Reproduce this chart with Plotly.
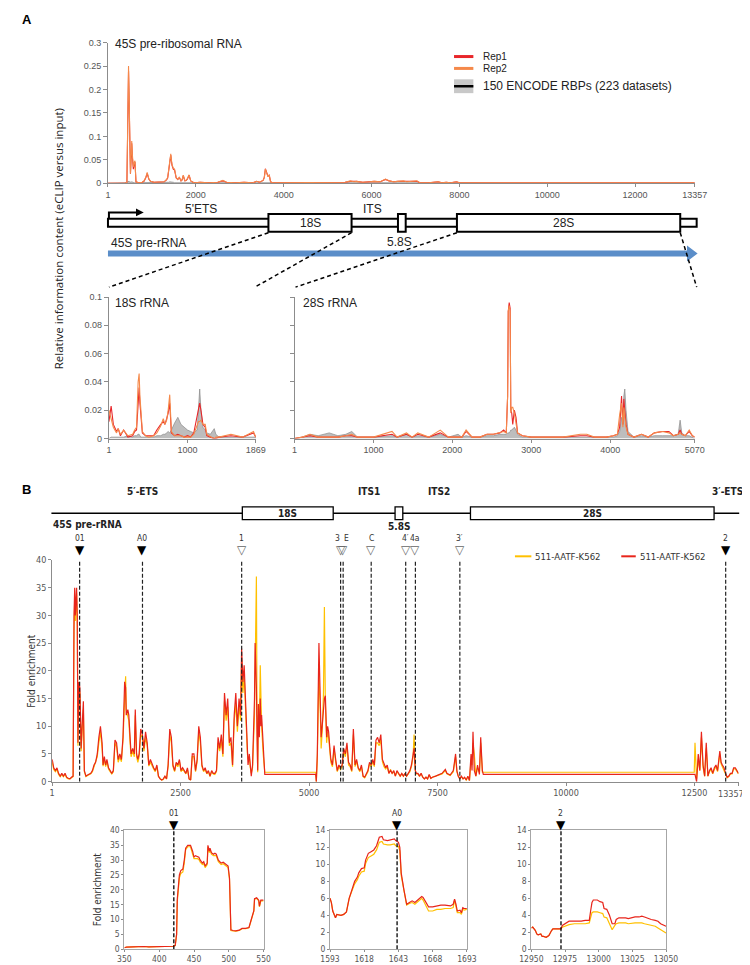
import plotly.graph_objects as go

W, H = 750, 965
def X(p): return p / W
def Y(p): return 1 - p / H

FA = "Liberation Sans, Arial, sans-serif"
FB = "Liberation Sans Narrow, Arial Narrow, DejaVu Sans Condensed, sans-serif"
RED_A = "#e8262a"
ORG_A = "#f5894a"
GRAY_FILL = "#bdbdbd"
GRAY_LINE = "#8a8a8a"
YEL_B = "#ffc000"
RED_B = "#e8251b"
AXC = "#8c8c8c"
TXT = "#222222"

# ---------------- Panel A: 45S pre-rRNA ----------------
a45_pos = [1, 400, 432, 445, 458, 469, 480, 495, 506, 513,
           525, 542, 557, 570, 579, 600, 616, 638, 700, 780,
           821, 860, 894, 930, 968, 1050, 1150, 1224, 1280, 1334,
           1360, 1385, 1407, 1430, 1445, 1459, 1488, 1517, 1554, 1590,
           1627, 1664, 1690, 1715, 1752, 1780, 1810, 1847, 1884, 1957,
           2100, 2300, 2500, 2617, 2700, 2900, 3100, 3300, 3387, 3450,
           3533, 3560, 3584, 3614, 3643, 3672, 3702, 3750, 4000, 4500,
           5000, 5400, 5517, 5549, 5600, 5659, 5800, 5950, 6062, 6200,
           6319, 6400, 6500, 6600, 6725, 6800, 6900, 7033, 7100, 7300,
           7516, 7600, 7700, 7800, 7934, 8000, 9000, 10000, 11000, 12000,
           13000, 13357]
a45_rep2 = [0, 0, 0.002, 0.12, 0.22, 0.25, 0.2, 0.13, 0.08, 0.02,
            0.05, 0.09, 0.06, 0.04, 0.035, 0.045, 0.048, 0.003, 0.001, 0.002,
            0.005, 0.012, 0.023, 0.01, 0.004, 0.002, 0.003, 0.004, 0.003, 0.008,
            0.012, 0.03, 0.045, 0.063, 0.05, 0.04, 0.032, 0.03, 0.012, 0.008,
            0.013, 0.005, 0.008, 0.017, 0.005, 0.006, 0.01, 0.018, 0.005, 0.001,
            0.002, 0.001, 0.002, 0.006, 0.002, 0.001, 0.002, 0.001, 0.004, 0.002,
            0.006, 0.012, 0.03, 0.02, 0.014, 0.018, 0.003, 0.001, 0.001, 0.001,
            0.001, 0.002, 0.005, 0.004, 0.003, 0.004, 0.002, 0.003, 0.004, 0.003,
            0.009, 0.005, 0.003, 0.004, 0.005, 0.003, 0.004, 0.005, 0.001, 0.001,
            0.003, 0.001, 0.002, 0.001, 0.003, 0.001, 0.001, 0.001, 0.001, 0.001,
            0.001, 0.001]
a45_rep1 = [0, 0, 0.002, 0.11, 0.21, 0.24, 0.19, 0.12, 0.07, 0.02,
            0.045, 0.085, 0.055, 0.04, 0.03, 0.04, 0.045, 0.003, 0.001, 0.002,
            0.004, 0.011, 0.021, 0.009, 0.004, 0.002, 0.003, 0.004, 0.003, 0.007,
            0.011, 0.028, 0.042, 0.06, 0.048, 0.038, 0.03, 0.028, 0.011, 0.008,
            0.012, 0.005, 0.007, 0.016, 0.005, 0.006, 0.009, 0.017, 0.005, 0.001,
            0.002, 0.001, 0.002, 0.005, 0.002, 0.001, 0.002, 0.001, 0.004, 0.002,
            0.006, 0.013, 0.031, 0.022, 0.015, 0.017, 0.003, 0.001, 0.001, 0.001,
            0.001, 0.002, 0.004, 0.004, 0.003, 0.004, 0.002, 0.003, 0.004, 0.003,
            0.008, 0.005, 0.003, 0.004, 0.004, 0.003, 0.004, 0.004, 0.001, 0.001,
            0.003, 0.001, 0.002, 0.001, 0.003, 0.001, 0.001, 0.001, 0.001, 0.001,
            0.001, 0.001]
a45_encode = [0, 0, 0.001, 0.003, 0.004, 0.005, 0.004, 0.003, 0.002, 0.002,
              0.002, 0.003, 0.002, 0.002, 0.001, 0.001, 0.001, 0.001, 0.001, 0.001,
              0.001, 0.001, 0.001, 0.001, 0.001, 0.001, 0.001, 0.001, 0.001, 0.001,
              0.002, 0.002, 0.003, 0.003, 0.002, 0.002, 0.002, 0.001, 0.001, 0.001,
              0.001, 0.001, 0.001, 0.002, 0.001, 0.001, 0.001, 0.001, 0.001, 0.001,
              0.001, 0.001, 0.001, 0.001, 0.001, 0.001, 0.001, 0.001, 0.001, 0.001,
              0.001, 0.001, 0.002, 0.002, 0.001, 0.001, 0.001, 0.001, 0.001, 0.001,
              0.001, 0.001, 0.001, 0.001, 0.001, 0.001, 0.001, 0.001, 0.001, 0.001,
              0.002, 0.001, 0.001, 0.001, 0.001, 0.001, 0.001, 0.002, 0.001, 0.001,
              0.001, 0.001, 0.001, 0.001, 0.002, 0.001, 0, 0, 0, 0,
              0, 0]
a45_xticks = [1, 2000, 4000, 6000, 8000, 10000, 12000, 13357]

# ---------------- Panel A: 18S rRNA ----------------
a18_pos = [1, 29, 57, 98, 119, 147, 188, 242, 303, 328,
           352, 372, 385, 395, 406, 426, 467, 508, 569, 610,
           631, 660, 692, 713, 735, 754, 774, 795, 836, 877,
           917, 960, 1000, 1040, 1080, 1122, 1140, 1155, 1171, 1196,
           1225, 1245, 1290, 1327, 1340, 1360, 1400, 1552, 1700, 1839,
           1860, 1869]
a18_rep1 = [0.012, 0.023, 0.01, 0.005, 0.007, 0.002, 0.006, 0.001, 0.002, 0.005,
            0.006, 0.03, 0.036, 0.025, 0.015, 0.004, 0.002, 0.002, 0.002, 0.006,
            0.008, 0.01, 0.012, 0.01, 0.014, 0.018, 0.025, 0.004, 0.002, 0.003,
            0.002, 0.001, 0.002, 0.001, 0.004, 0.015, 0.02, 0.025, 0.02, 0.01,
            0.008, 0.002, 0.001, 0, 0, 0, 0.001, 0.002, 0.001, 0.004,
            0.002, 0.001]
a18_rep2 = [0.02, 0.013, 0.008, 0.004, 0.007, 0.003, 0.006, 0.002, 0.003, 0.006,
            0.008, 0.04, 0.046, 0.03, 0.02, 0.005, 0.002, 0.001, 0.002, 0.004,
            0.006, 0.009, 0.014, 0.01, 0.013, 0.02, 0.031, 0.005, 0.002, 0.002,
            0.002, 0.001, 0.001, 0.001, 0.003, 0.01, 0.012, 0.012, 0.013, 0.01,
            0.01, 0.003, 0.001, 0, 0, 0.001, 0.001, 0.003, 0.001, 0.005,
            0.002, 0.001]
a18_encode = [0, 0.001, 0.001, 0.001, 0.001, 0.001, 0.001, 0.002, 0.001, 0.002,
              0.002, 0.003, 0.003, 0.002, 0.001, 0.001, 0.001, 0.001, 0.001, 0.002,
              0.002, 0.002, 0.003, 0.003, 0.004, 0.005, 0.004, 0.006, 0.011, 0.015,
              0.01, 0.008, 0.006, 0.005, 0.004, 0.006, 0.02, 0.035, 0.02, 0.008,
              0.006, 0.004, 0.003, 0.006, 0.007, 0.003, 0.001, 0.001, 0.001, 0.001,
              0.001, 0]
a18_xticks = [1, 1000, 1869]

# ---------------- Panel A: 28S rRNA ----------------
a28_pos = [1, 100, 196, 300, 440, 550, 650, 726, 800, 1000,
           1236, 1300, 1419, 1490, 1562, 1700, 1847, 1950, 2072, 2120,
           2174, 2250, 2350, 2439, 2520, 2602, 2650, 2683, 2700, 2708,
           2720, 2732, 2740, 2752, 2765, 2785, 2806, 2826, 2887, 3000,
           3200, 3400, 3621, 3703, 3800, 3950, 4040, 4090, 4119, 4143,
           4160, 4172, 4184, 4200, 4225, 4300, 4396, 4480, 4559, 4661,
           4743, 4800, 4860, 4885, 4906, 4950, 5000, 5040, 5070]
a28_rep1 = [0, 0.001, 0.002, 0.001, 0.001, 0.001, 0.002, 0.002, 0.001, 0.001,
            0.003, 0.001, 0.003, 0.001, 0.003, 0.001, 0.004, 0.001, 0.001, 0.001,
            0.005, 0.001, 0.001, 0.003, 0.003, 0.004, 0.006, 0.004, 0.03, 0.09,
            0.096, 0.092, 0.02, 0.018, 0.01, 0.02, 0.015, 0.004, 0.002, 0.001,
            0.001, 0.001, 0.002, 0.002, 0.001, 0.001, 0.002, 0.003, 0.008, 0.03,
            0.01, 0.028, 0.02, 0.01, 0.003, 0.001, 0.003, 0.001, 0.004, 0.005,
            0.005, 0.002, 0.003, 0.006, 0.003, 0.002, 0.005, 0.002, 0.001]
a28_rep2 = [0, 0.001, 0.003, 0.001, 0.001, 0.001, 0.002, 0.003, 0.001, 0.001,
            0.005, 0.001, 0.004, 0.001, 0.004, 0.001, 0.006, 0.001, 0.001, 0.001,
            0.006, 0.001, 0.001, 0.003, 0.003, 0.004, 0.005, 0.004, 0.03, 0.09,
            0.094, 0.09, 0.018, 0.022, 0.022, 0.018, 0.012, 0.004, 0.002, 0.001,
            0.001, 0.001, 0.003, 0.003, 0.001, 0.001, 0.002, 0.003, 0.017, 0.025,
            0.008, 0.022, 0.015, 0.008, 0.003, 0.001, 0.003, 0.001, 0.004, 0.005,
            0.004, 0.002, 0.003, 0.004, 0.003, 0.002, 0.006, 0.002, 0.001]
a28_encode = [0, 0.001, 0.003, 0.002, 0.004, 0.002, 0.003, 0.005, 0.001, 0.001,
              0.002, 0.001, 0.003, 0.001, 0.002, 0.001, 0.003, 0.001, 0.003, 0.001,
              0.002, 0.001, 0.001, 0.002, 0.002, 0.003, 0.003, 0.003, 0.004, 0.004,
              0.004, 0.005, 0.006, 0.006, 0.007, 0.008, 0.006, 0.003, 0.001, 0.001,
              0.001, 0.001, 0.001, 0.001, 0.001, 0.001, 0.001, 0.002, 0.005, 0.015,
              0.01, 0.03, 0.035, 0.02, 0.005, 0.001, 0.002, 0.001, 0.002, 0.002,
              0.002, 0.002, 0.003, 0.013, 0.004, 0.002, 0.002, 0.001, 0]
a28_xticks = [1, 1000, 2000, 3000, 4000, 5070]

# ---------------- Panel B: full 45S ----------------
b_pos = [1, 31, 63, 94, 125, 157, 188, 219, 251, 282,
         314, 345, 376, 408, 426, 439, 451, 476, 489, 502,
         520, 539, 552, 564, 583, 608, 627, 658, 690, 752,
         784, 815, 846, 878, 909, 940, 972, 991, 1016, 1041,
         1066, 1097, 1129, 1160, 1191, 1223, 1254, 1285, 1317, 1348,
         1379, 1411, 1430, 1442, 1473, 1492, 1517, 1536, 1568, 1599,
         1618, 1643, 1668, 1693, 1724, 1756, 1787, 1818, 1850, 1881,
         1912, 1944, 1975, 2006, 2038, 2069, 2100, 2132, 2163, 2195,
         2226, 2257, 2289, 2320, 2351, 2383, 2414, 2445, 2477, 2508,
         2539, 2571, 2602, 2633, 2665, 2696, 2727, 2759, 2790, 2822,
         2853, 2884, 2915, 2947, 2978, 3010, 3041, 3072, 3104, 3135,
         3166, 3198, 3229, 3260, 3292, 3323, 3354, 3386, 3417, 3449,
         3480, 3511, 3543, 3574, 3605, 3637, 3668, 3687, 3712, 3737,
         3762, 3781, 3800, 3812, 3837, 3856, 3875, 3900, 3919, 3938,
         3950, 3963, 3975, 3988, 4000, 4013, 4032, 4050, 4063, 4076,
         4107, 4138, 5129, 5141, 5160, 5173, 5192, 5217, 5235, 5255,
         5280, 5298, 5317, 5342, 5361, 5380, 5405, 5424, 5455, 5486,
         5518, 5549, 5580, 5612, 5643, 5674, 5706, 5737, 5768, 5800,
         5831, 5862, 5894, 5925, 5957, 5988, 6019, 6051, 6082, 6113,
         6145, 6176, 6208, 6239, 6270, 6302, 6333, 6364, 6396, 6427,
         6459, 6490, 6521, 6553, 6585, 6616, 6648, 6679, 6710, 6742,
         6773, 6804, 6836, 6867, 6898, 6930, 6961, 6992, 7024, 7043,
         7068, 7086, 7118, 7149, 7180, 7212, 7243, 7275, 7306, 7337,
         7369, 7400, 7463, 7525, 7588, 7651, 7682, 7745, 7807, 7851,
         7876, 7902, 7933, 7964, 7996, 8027, 8058, 8090, 8121, 8152,
         8171, 8190, 8215, 8246, 8278, 8315, 8340, 8372, 8391, 12495,
         12510, 12541, 12573, 12604, 12635, 12667, 12698, 12729, 12761, 12792,
         12823, 12855, 12886, 12918, 12949, 12993, 13018, 13043, 13074, 13106,
         13137, 13168, 13200, 13231, 13262, 13294, 13325, 13357]
b_red = [4, 2.5, 2, 2.5, 1.5, 1, 1.5, 1, 1.5, 0.8,
         0.6, 0.5, 0.8, 1, 30, 35, 30, 35, 30, 7,
         18, 17, 12, 6, 10, 14.5, 2, 1, 1.2, 1.5,
         2, 3, 3.5, 5, 8, 10, 7, 3, 4.5, 3,
         4, 2.5, 2, 1.5, 2, 7.5, 7, 4, 5, 4,
         8, 18, 17, 12, 13, 12, 8, 5, 6, 5,
         13, 5, 4, 5, 9.5, 8.5, 6, 9, 7, 3,
         4, 3, 2.5, 2, 3, 1, 0.5, 0.3, 0.5, 1,
         0.5, 3, 9.5, 8, 3, 2, 3.5, 3, 4, 2,
         2.5, 2, 1.5, 2.5, 0.5, 0.3, 5, 5, 2, 4,
         10, 8, 3, 2, 2.5, 1.5, 2, 1, 2, 1.5,
         1.5, 2, 8, 6, 8.5, 5, 16, 12, 15, 7,
         8, 3, 12, 16, 10, 15, 12, 24, 18, 21,
         14, 10, 6, 3, 5, 2, 1, 3, 8, 15,
         25, 21, 17, 8, 2, 14, 8, 15, 10, 12,
         6, 1.3, 1.3, 0, 5, 12, 25, 15, 8, 10,
         14, 15, 15.5, 8, 10, 9, 6, 4, 3, 6.5,
         4, 2, 3, 2.5, 3, 6, 5, 7, 3.5, 3,
         2, 9.5, 3, 4, 2.5, 2, 3, 1, 0.8, 1.5,
         2, 3.5, 3, 4, 3, 7.5, 8, 7, 8.5, 4,
         3, 2.5, 3, 1.5, 2, 1.5, 2, 1, 2, 1.5,
         1, 1.5, 1, 1.5, 1, 1.5, 2, 3, 5, 6,
         2, 1.5, 1.5, 1, 1.5, 0.8, 0.5, 0.8, 0.5, 1.3,
         0.6, 0.8, 1, 1.2, 1.5, 2.2, 1.5, 1.2, 2, 5,
         2, 1, 0.5, 1, 0.5, 0.8, 0.3, 1, 0.2, 5,
         2, 9, 2, 1, 3, 1.3, 8, 2, 1.3, 1.3,
         1.3, 0, 5, 2, 9, 3, 1, 7, 1, 2,
         2.5, 1.5, 2.5, 3, 2, 5.5, 3.5, 3, 2.5, 1.5,
         0.8, 1, 1.5, 1.5, 2.5, 2.5, 2, 1.5]
b_yellow = [3.5, 2.2, 1.8, 2.2, 1.3, 0.9, 1.3, 0.9, 1.3, 0.7,
            0.5, 0.5, 0.7, 0.9, 28, 33, 29, 34, 28, 6.5,
            17, 16, 11, 5.5, 9, 13, 1.8, 0.9, 1.1, 1.4,
            1.8, 2.7, 3.2, 4.5, 7, 9, 6, 2.8, 4, 2.7,
            3.6, 2.3, 1.8, 1.4, 1.8, 7, 6.3, 3.5, 4.5, 3.6,
            7.5, 17, 19, 13, 12, 11, 7, 4.5, 5.5, 4.5,
            12, 4.5, 3.5, 4.5, 8.5, 8, 5.5, 8, 6.5, 2.8,
            3.5, 2.7, 2.3, 1.8, 2.7, 0.9, 0.5, 0.3, 0.4, 0.9,
            0.5, 2.7, 8.5, 7, 2.7, 1.8, 3.2, 2.7, 3.6, 1.8,
            2.3, 1.8, 1.4, 2.2, 0.5, 0.3, 4.5, 4.5, 1.8, 3.6,
            9, 7, 2.7, 1.8, 2.2, 1.4, 1.8, 0.9, 1.8, 1.4,
            1.3, 1.8, 7, 5.5, 7.5, 4.5, 14.5, 11, 13.5, 6.5,
            7, 2.7, 11, 14, 9, 13.5, 11, 22, 16, 19,
            12, 8, 5, 4, 4.5, 2.5, 1.5, 2.5, 7, 12,
            20, 30, 37, 10, 1.7, 12, 9, 21, 12, 10,
            5, 1.7, 1.7, 0, 4, 10, 20, 13, 6, 9,
            16, 31.5, 14, 7, 9, 8, 5.5, 3.5, 2.7, 6,
            3.5, 1.8, 2.7, 2.2, 2.7, 5.5, 4.5, 6.5, 3, 2.7,
            1.8, 8.5, 2.7, 3.6, 2.3, 1.8, 2.7, 0.9, 0.7, 1.3,
            1.8, 3.2, 2.7, 3.6, 2.7, 7, 7, 6.5, 7.5, 3.6,
            2.7, 2.3, 2.7, 1.5, 2.2, 1.5, 1.8, 1, 1.8, 1.4,
            1, 1.4, 1, 1.4, 1, 1.4, 1.8, 2.7, 4.5, 8.5,
            2, 1.4, 1.4, 1, 1.4, 0.8, 0.5, 0.8, 0.5, 1.2,
            0.6, 0.8, 1, 1.1, 1.4, 2, 1.4, 1.1, 1.8, 4.5,
            1.8, 1, 0.5, 0.9, 0.5, 0.7, 0.3, 0.9, 0.2, 4,
            3, 7, 5, 1, 2.5, 1.7, 7, 1.7, 1.7, 1.7,
            7, 0.5, 4, 2, 8, 2.5, 1, 6, 1, 1.8,
            2.2, 1.4, 2.2, 2.7, 1.8, 5, 3.2, 2.7, 2.2, 1.4,
            0.7, 0.9, 1.4, 1.4, 2.3, 2.3, 1.8, 1.4]
b_xticks = [1, 2500, 5000, 7500, 10000, 12500, 13357]
b_site_pos = [535, 1758, 3688, 5614, 5663, 6209, 6880, 7069, 7934, 13107]
b_site_lab = ["01", "A0", "1", "3", "E", "C", "4\u2032", "4a", "3\u2032", "2"]
b_site_filled = [1, 1, 0, 0, 0, 0, 0, 0, 0, 1]

# ---------------- Panel B: zoom insets ----------------
i1_pos = [350, 353, 362, 376, 378, 385, 394, 408, 420, 423,
          425, 426, 428, 429, 431, 434, 436, 438, 441, 443,
          445, 448, 450, 452, 455, 457, 459, 462, 464, 466,
          469, 470, 472, 473, 475, 478, 480, 482, 485, 487,
          489, 492, 494, 496, 499, 501, 502, 503, 506, 510,
          515, 519, 524, 529, 531, 533, 536, 537, 540, 543,
          544, 546, 550]
i1_red = [0.5, 0.7, 0.8, 1.1, 0.9, 0.8, 0.8, 0.9, 1, 1.2,
          5, 17, 22, 25, 26.5, 27, 30, 34, 35, 35,
          35, 33, 31, 31.5, 31.3, 31, 30, 29, 29.5, 28,
          29, 35, 33, 34, 32.5, 32, 32.3, 32, 30, 29.5,
          29, 29.3, 29, 28.5, 28, 24, 15, 6.5, 6.3, 6.2,
          6.4, 7, 7, 7.3, 9, 11, 13, 17, 17.3, 16.5,
          14.5, 16.5, 16.5]
i1_yellow = [0.5, 0.7, 0.8, 1.1, 0.9, 0.8, 0.8, 0.9, 1, 1.2,
             5, 16, 21, 24, 25.5, 26, 29, 33.5, 34.5, 34.5,
             34.5, 32, 30.5, 30.5, 30.5, 30.2, 29.3, 28.5, 28.8, 27.5,
             28.5, 34.5, 32.5, 33.5, 32, 31.5, 31.5, 31.5, 29.5, 29,
             28.5, 28.8, 28.5, 28, 27.5, 23.5, 14.5, 6.3, 6.2, 6.1,
             6.3, 6.9, 6.9, 7.2, 8.8, 10.8, 12.8, 16.8, 17.1, 16.3,
             14.3, 16.3, 16.3]
i1_xticks = [350, 400, 450, 500, 550]
i2_pos = [1593, 1594, 1595, 1597, 1598, 1601, 1603, 1605, 1607, 1608,
          1609, 1611, 1613, 1614, 1616, 1618, 1619, 1621, 1623, 1625,
          1627, 1628, 1629, 1631, 1632, 1635, 1637, 1640, 1641, 1643,
          1644, 1645, 1647, 1648, 1649, 1651, 1653, 1655, 1657, 1660,
          1661, 1663, 1665, 1668, 1671, 1674, 1677, 1681, 1683, 1684,
          1685, 1686, 1688, 1689, 1690, 1691, 1693]
i2_red = [6, 5.5, 4.5, 3.7, 4.1, 4, 4.1, 4.4, 6, 6.5,
          7, 8, 8.5, 9, 9.5, 9.6, 10.5, 11.3, 11.5, 11.7,
          12.2, 12.8, 13.2, 13.3, 12.9, 12.8, 12.9, 13, 12.8, 12.6,
          12, 9, 7, 6, 5.3, 5.5, 5.7, 5.5, 5.8, 6.2,
          6.1, 5.5, 5, 5, 5.1, 5.2, 5.2, 5.1, 5.3, 5.9,
          5.3, 4.5, 4.6, 4.3, 4.9, 4.8, 4.8]
i2_yellow = [6, 5.5, 4.5, 3.7, 4.1, 4, 4.1, 4.4, 6, 6.4,
             6.8, 7.7, 8.2, 8.6, 9.1, 9.2, 10.1, 10.8, 11, 11.2,
             11.7, 12.1, 12.6, 12.7, 12.4, 12.3, 12.3, 12.4, 12.2, 12.1,
             11.6, 8.7, 6.8, 5.8, 5.2, 5.4, 5.5, 5.3, 5.6, 6,
             5.8, 5.1, 4.5, 4.5, 4.7, 4.7, 4.8, 4.8, 4.9, 5.8,
             5, 4.3, 4.3, 4.1, 4.7, 4.6, 4.7]
i2_xticks = [1593, 1618, 1643, 1668, 1693]
i3_pos = [12950, 12951, 12953, 12954, 12955, 12957, 12958, 12959, 12961, 12963,
          12965, 12966, 12969, 12972, 12973, 12976, 12978, 12982, 12987, 12990,
          12993, 12994, 12995, 12996, 12999, 13001, 13003, 13004, 13006, 13008,
          13009, 13010, 13012, 13013, 13015, 13018, 13020, 13022, 13025, 13027,
          13030, 13032, 13034, 13037, 13039, 13042, 13044, 13046, 13049, 13050]
i3_red = [2.5, 2.6, 2.2, 1.8, 1.7, 1.8, 1.5, 1.5, 1.4, 1.6,
          2.2, 2.4, 2.4, 2.4, 2.8, 3.1, 3.3, 3.3, 3.3, 3.4,
          3.4, 4.5, 5.5, 5.8, 5.8, 5.6, 5.5, 4.8, 4.7, 4.0,
          3.5, 3.0, 3.0, 3.5, 3.7, 3.7, 3.7, 3.6, 3.7, 3.8,
          3.8, 3.9, 3.8, 3.6, 3.5, 3.4, 3.3, 3.0, 2.8, 2.7]
i3_yellow = [2.5, 2.6, 2.2, 1.8, 1.7, 1.8, 1.5, 1.5, 1.4, 1.6,
             2.2, 2.4, 2.4, 2.4, 2.6, 2.8, 2.9, 3.0, 3.0, 3.0,
             3.1, 3.8, 4.3, 4.4, 4.4, 4.3, 4.2, 3.8, 3.7, 3.0,
             2.6, 2.3, 2.8, 3.0, 3.1, 3.1, 3.1, 3.0, 3.1, 3.1,
             3.1, 3.1, 3.0, 2.9, 2.8, 2.7, 2.5, 2.3, 2.0, 1.9]
i3_xticks = [12950, 12975, 13000, 13025, 13050]
inset_sites = [421, 1642, 12972]
inset_labels = ["01", "A0", "2"]

for a, b in [(a45_pos, a45_rep1), (a45_pos, a45_rep2), (a45_pos, a45_encode),
             (a18_pos, a18_rep1), (a18_pos, a18_rep2), (a18_pos, a18_encode),
             (a28_pos, a28_rep1), (a28_pos, a28_rep2), (a28_pos, a28_encode),
             (b_pos, b_red), (b_pos, b_yellow), (i1_pos, i1_red), (i1_pos, i1_yellow),
             (i2_pos, i2_red), (i2_pos, i2_yellow), (i3_pos, i3_red), (i3_pos, i3_yellow)]:
    assert len(a) == len(b), (len(a), len(b))

fig = go.Figure()

def line(x, y, xa, ya, color, width=1.0, fill=None, fillcolor=None):
    fig.add_trace(go.Scatter(x=x, y=y, xaxis=xa, yaxis=ya, mode="lines",
                             line=dict(color=color, width=width),
                             fill=fill, fillcolor=fillcolor,
                             showlegend=False, hoverinfo="skip"))

for xa, ya, pos, r1, r2, enc in [("x", "y", a45_pos, a45_rep1, a45_rep2, a45_encode),
                                 ("x2", "y2", a18_pos, a18_rep1, a18_rep2, a18_encode),
                                 ("x3", "y3", a28_pos, a28_rep1, a28_rep2, a28_encode)]:
    line(pos, enc, xa, ya, GRAY_LINE, 0.7, "tozeroy", GRAY_FILL)
    line(pos, r1, xa, ya, RED_A, 1.1)
    line(pos, r2, xa, ya, ORG_A, 1.1)

line(b_pos, b_yellow, "x4", "y4", YEL_B, 1.2)
line(b_pos, b_red, "x4", "y4", RED_B, 1.2)
for xa, ya, pos, yv, rv in [("x5", "y5", i1_pos, i1_yellow, i1_red),
                            ("x6", "y6", i2_pos, i2_yellow, i2_red),
                            ("x7", "y7", i3_pos, i3_yellow, i3_red)]:
    line(pos, yv, xa, ya, YEL_B, 1.2)
    line(pos, rv, xa, ya, RED_B, 1.2)

INS_TOP, INS_BOT = 826, 946

# ---------------- axes ----------------
def axis(domain, rng, anchor, font=FA, fsize=9, **kw):
    d = dict(domain=domain, range=rng, anchor=anchor, showgrid=False, zeroline=False,
             showline=True, linecolor=AXC, linewidth=1, ticks="outside", ticklen=3,
             tickcolor=AXC, tickfont=dict(family=font, size=fsize, color="#555555"))
    d.update(kw)
    return d

def tv(vals, blank_last=False):
    txt = [str(v) for v in vals]
    if blank_last:
        txt[-1] = ""
    return dict(tickvals=vals, ticktext=txt)

lay = dict(width=W, height=H, margin=dict(l=0, r=0, t=0, b=0),
           paper_bgcolor="white", plot_bgcolor="white", showlegend=False)
lay["xaxis"] = axis([X(91), X(698)], [1, 13357], "y", **tv(a45_xticks))
lay["yaxis"] = axis([Y(172), Y(30)], [0, 0.3], "x", dtick=0.05, tick0=0, ticklen=4)
lay["xaxis2"] = axis([X(92), X(244)], [1, 1869], "y2", **tv(a18_xticks))
lay["yaxis2"] = axis([Y(430), Y(287)], [0, 0.1], "x2", dtick=0.02, tick0=0, ticklen=4)
lay["xaxis3"] = axis([X(284), X(698)], [1, 5070], "y3", **tv(a28_xticks))
lay["yaxis3"] = axis([Y(430), Y(287)], [0, 0.1], "x3", dtick=0.02, tick0=0, ticklen=4,
                     showticklabels=False)
lay["xaxis4"] = axis([X(33.3), X(743.3)], [1, 13357], "y4", font=FB, fsize=9,
                     **tv(b_xticks, blank_last=True))
lay["yaxis4"] = axis([Y(776.7), Y(552.7)], [0, 40], "x4", font=FB, fsize=9, dtick=5, tick0=0)
ins_kw = dict(font=FB, fsize=8.5, mirror=True, linecolor="#a6a6a6", ticklen=2)
dom_y = [Y(INS_BOT), Y(INS_TOP)]
lay["xaxis5"] = axis([X(108), X(252)], [350, 550], "y5", **tv(i1_xticks), **ins_kw)
lay["yaxis5"] = axis(dom_y, [0, 40], "x5", dtick=5, tick0=0, **ins_kw)
lay["xaxis6"] = axis([X(320.7), X(462.3)], [1593, 1693], "y6", **tv(i2_xticks), **ins_kw)
lay["yaxis6"] = axis(dom_y, [0, 14], "x6", dtick=2, tick0=0, **ins_kw)
lay["xaxis7"] = axis([X(529), X(668.3)], [12950, 13050], "y7", **tv(i3_xticks), **ins_kw)
lay["yaxis7"] = axis(dom_y, [0, 14], "x7", dtick=2, tick0=0, **ins_kw)

# ---------------- shapes ----------------
shapes = []
def pline(x0, y0, x1, y1, color="black", width=1.5, dash=None):
    shapes.append(dict(type="line", xref="paper", yref="paper", x0=X(x0), y0=Y(y0),
                       x1=X(x1), y1=Y(y1), line=dict(color=color, width=width, dash=dash)))
def prect(x0, y0, x1, y1, fill="white", color="black", width=2):
    shapes.append(dict(type="rect", xref="paper", yref="paper", x0=X(x0), y0=Y(y1),
                       x1=X(x1), y1=Y(y0), fillcolor=fill,
                       line=dict(color=color, width=width)))
def ppath(pts, fill, color=None, width=0, close=True):
    d = "M" + " L".join(f"{X(a):.5f},{Y(b):.5f}" for a, b in pts) + (" Z" if close else "")
    shapes.append(dict(type="path", xref="paper", yref="paper", path=d,
                       fillcolor=fill, line=dict(color=color or fill, width=width)))

# A schematic
prect(91, 208, 700, 216)
for a, b in [(257, 343), (391, 399), (452, 683)]:
    prect(a, 203, b, 221)
ppath([(92, 208), (92, 201.5), (121, 201.5)], "rgba(0,0,0,0)", "black", 2, close=False)
ppath([(120, 197.5), (128, 201.5), (120, 205.5)], "black")
ppath([(91, 240), (690, 240), (690, 235), (701, 243), (690, 251), (690, 246), (91, 246)], "#5b8ec9")
DASH = "4px,3px"
pline(257, 222, 92, 277, dash=DASH)
pline(343, 222, 243, 277, dash=DASH)
pline(452, 222, 285, 277, dash=DASH)
pline(683, 222, 700, 277, dash=DASH)
# A legend
pline(449, 44, 469, 44, RED_A, 3)
pline(449, 56, 469, 56, ORG_A, 3)
prect(449, 67, 469, 81, fill="#c8c8c8", color="#c8c8c8", width=0)
pline(449, 74, 469, 74, "black", 2.5)
# B schematic
pline(32.5, 505.5, 744, 505.5, "black", 1.3)
for a, b in [(230, 324), (388, 396), (466, 718)]:
    prect(a, 499, b, 512, width=1.3)
# B legend
pline(512, 549, 529, 549, YEL_B, 2)
pline(622, 549, 637, 549, RED_B, 2)
# site dashed lines
for p in b_site_pos:
    shapes.append(dict(type="line", xref="x4", yref="y4", x0=p, x1=p, y0=0, y1=40.5,
                       layer="above", line=dict(color="#222222", width=1.2, dash="4px,2px")))
for i, (xa, ya, top) in enumerate([("x5", "y5", 40), ("x6", "y6", 14), ("x7", "y7", 14)]):
    shapes.append(dict(type="line", xref=xa, yref=ya, x0=inset_sites[i], x1=inset_sites[i],
                       y0=0, y1=top, layer="above",
                       line=dict(color="black", width=1.3, dash="4px,2px")))
lay["shapes"] = shapes

# ---------------- annotations ----------------
ann = []
def T(text, x, y, size, family=FA, color=TXT, xanchor="center", bold=False, angle=0):
    ann.append(dict(text=f"<b>{text}</b>" if bold else text, x=X(x), y=Y(y),
                    xref="paper", yref="paper", showarrow=False, xanchor=xanchor,
                    yanchor="middle", textangle=angle,
                    font=dict(size=size, family=family, color=color)))

def site_mark(xval, xref, filled, label, ytri, ylab, lab_anchor="center"):
    ann.append(dict(text="\u25BC" if filled else "\u25BD", x=xval, xref=xref,
                    y=Y(ytri), yref="paper", showarrow=False, xanchor="center",
                    yanchor="middle", borderpad=0,
                    font=dict(size=12, family="DejaVu Sans, sans-serif",
                              color="black" if filled else "#666666")))
    ann.append(dict(text=label, x=xval, xref=xref, y=Y(ylab), yref="paper",
                    showarrow=False, xanchor=lab_anchor, yanchor="middle", borderpad=0,
                    font=dict(size=8.5, family=FB, color="#333333")))

lab_anchor = ["center"] * len(b_site_lab)
lab_anchor[3] = "right"
lab_anchor[4] = "left"
for i in range(len(b_site_pos)):
    site_mark(b_site_pos[i], "x4", b_site_filled[i], b_site_lab[i], 543, 530, lab_anchor[i])
for i, xr in enumerate(["x5", "x6", "x7"]):
    site_mark(inset_sites[i], xr, 1, inset_labels[i], INS_TOP - 6, INS_TOP - 18)

T("A", 0, 7, 13, bold=True, xanchor="left", color="black")
T("45S pre-ribosomal RNA", 96, 31, 12, xanchor="left")
T("Rep1", 477, 44, 10, xanchor="left")
T("Rep2", 477, 56, 10, xanchor="left")
T("150 ENCODE RBPs (223 datasets)", 477, 74, 12, xanchor="left")
T("Relative information content (eCLIP versus input)", 40, 228, 11.5,
  family="Open Sans, sans-serif", angle=-90)
T("5'ETS", 187, 198, 12)
T("ITS", 365, 198, 12)
T("18S", 300, 212.5, 12)
T("28S", 562, 212.5, 12)
T("5.8S", 393, 231, 12)
T("45S pre-rRNA", 92, 232, 12, xanchor="left")
T("18S rRNA", 96, 293, 12, xanchor="left")
T("28S rRNA", 291, 293, 12, xanchor="left")

T("B", 0, 481, 13, bold=True, xanchor="left", color="black")
T("5\u2032-ETS", 127, 484, 10, family=FB, bold=True)
T("ITS1", 361, 484, 10, family=FB, bold=True)
T("ITS2", 433, 484, 10, family=FB, bold=True)
T("3\u2032-ETS", 750, 484, 10, family=FB, bold=True, xanchor="right")
T("18S", 277, 505.5, 10, family=FB, bold=True)
T("28S", 592, 505.5, 10, family=FB, bold=True)
T("5.8S", 392, 518.5, 10, family=FB, bold=True)
T("45S pre-rRNA", 32, 517, 10, family=FB, bold=True, xanchor="left")
T("511-AATF-K562", 531, 549, 9.5, family=FB, xanchor="left", color="#333")
T("511-AATF-K562", 639, 549, 9.5, family=FB, xanchor="left", color="#333")
T("Fold enrichment", 12, 665, 10, family=FB, angle=-90, color="#333")
T("Fold enrichment", 80, 886, 10, family=FB, angle=-90, color="#333")
T("13357", 735, 789, 9, family=FB, color="#555555")
lay["annotations"] = ann

fig.update_layout(**lay)
fig.write_html("out.html")
